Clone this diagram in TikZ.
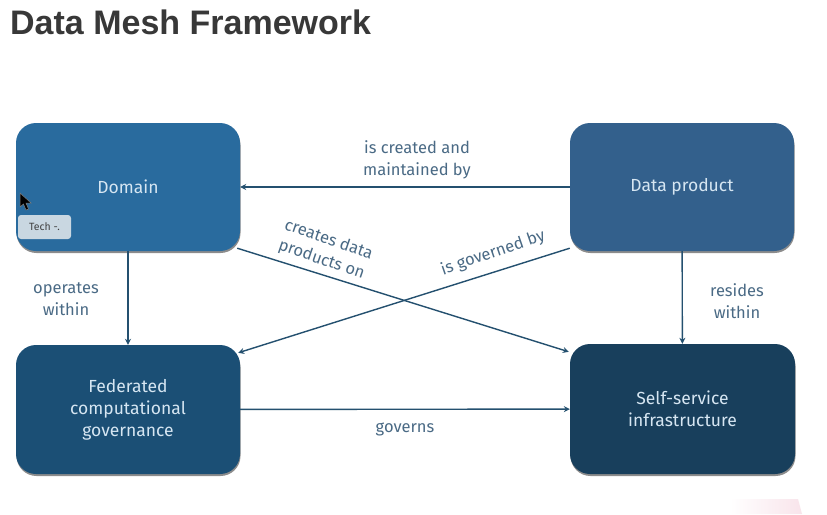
\documentclass[tikz,border=0pt]{standalone}
\usepackage{fontspec}
\setmainfont{Fira Sans}
\newfontfamily\titlefont{Liberation Sans}
\usetikzlibrary{shadows,arrows.meta,calc}
\definecolor{cDom}{HTML}{296B9E}
\definecolor{cDP}{HTML}{33608C}
\definecolor{cFed}{HTML}{1B4F75}
\definecolor{cSelf}{HTML}{183F5C}
\definecolor{cBoxTxt}{HTML}{D6E6F2}
\definecolor{cLab}{HTML}{4A6A85}
\definecolor{cLine}{HTML}{24506F}
\tikzset{
  box/.style={rounded corners=20pt,minimum width=224pt,minimum height=128pt,inner sep=0pt,
    text=cBoxTxt,align=center,font=\fontsize{17.5}{22}\selectfont,
    drop shadow={shadow xshift=0.5pt,shadow yshift=-2pt,opacity=.45,fill=black}},
  lab/.style={text=cLab,align=center,inner sep=0pt,font=\fontsize{16.5}{21.5}\selectfont},
  conn/.style={draw=cLine,line width=1.4pt,-{Stealth[length=6pt,width=6pt]}}
}
\begin{document}
\begin{tikzpicture}[x=1pt,y=-1pt]
\useasboundingbox (0,0) rectangle (827,514);
\fill[white] (0,0) rectangle (827,514);
\shade[left color=white,right color=white!70!purple!35] (730,499) -- (798,499) -- (802,514) -- (730,514) -- cycle;
\node[anchor=base west,inner sep=0pt,text=black!78,font=\titlefont\bfseries\fontsize{34}{40}\selectfont] (title) at (10,34) {Data Mesh Framework};

\node[box,fill=cDom] (dom) at (128,187) {Domain};
\node[box,fill=cDP] (dp) at (682,187) {Data product};
\node[box,fill=cFed,minimum height=129pt] (fed) at (128,409.5) {Federated\\computational\\governance};
\node[box,fill=cSelf,minimum width=225pt,minimum height=130pt] (self) at (682.5,409) {Self-service\\infrastructure};

\coordinate (domout) at ($(dom.south east)+(-3,-3)$);
\coordinate (selfin) at ($(self.north west)+(-1,8)$);
\coordinate (dpout) at ($(dp.south west)+(0,-3)$);
\coordinate (fedin) at ($(fed.north east)+(-2,8)$);

\draw[conn] (dp) -- (dom);
\draw[conn] (dom) -- (fed);
\draw[conn] (dp) -- (self);
\draw[conn] (fed) -- (self);
\draw[conn] (domout) -- (selfin);
\draw[conn] (dpout) -- (fedin);

\node[lab] (l1) at (417,160) {is created and\\maintained by};
\node[lab] (l2) at (66,299) {operates\\within};
\node[lab] (l3) at (737,301) {resides\\within};
\node[lab] (l4) at (405,429) {governs};
\node[lab,rotate=-19] (l5) at (325,250) {creates data\\products on};
\node[lab,rotate=19] (l6) at (493,253) {is governed by};

\node[fill=cBoxTxt!85!gray,rounded corners=3pt,minimum width=53pt,minimum height=24pt,inner sep=0pt,text=black!75,font=\fontsize{10.5}{12}\selectfont] (tech) at (44.5,227) {Tech -.};
\fill[black,draw=gray,line width=.5pt] (20,193) -- (20,207) -- (23.5,204) -- (26,210) -- (28.5,209) -- (26,203) -- (31,203) -- cycle;
\end{tikzpicture}
\end{document}
